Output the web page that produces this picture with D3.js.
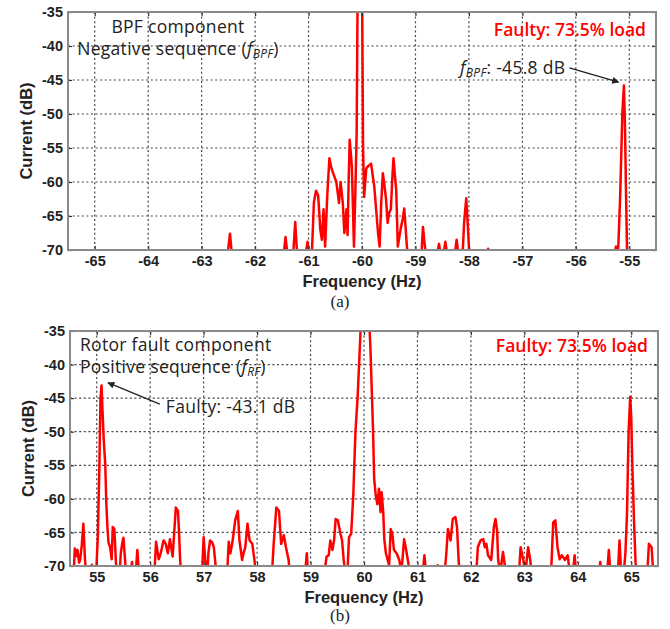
<!DOCTYPE html>
<html>
<head>
<meta charset="utf-8">
<script src="https://cdn.jsdelivr.net/npm/d3@7"></script>
<style>
  body { margin: 0; background: #fff; }
  svg { display: block; }
  .tick text { font-family: "Liberation Sans", Arial, sans-serif; font-weight: bold; font-size: 14.5px; fill: #222; }
  .title { font-family: "Liberation Sans", Arial, sans-serif; font-weight: bold; font-size: 16.5px; fill: #222; }
  .note { font-family: "Open Sans", sans-serif; font-size: 17.5px; font-weight: 500; letter-spacing: 0.3px; fill: #222; }
  .load { font-family: "Open Sans", sans-serif; font-size: 17.5px; font-weight: 600; fill: #ff0000; }
  .caption { font-family: "Liberation Serif", "Times New Roman", serif; font-size: 17px; fill: #222; }
  .grid { stroke: #444; stroke-width: 1.2; stroke-dasharray: 2,2.6; }
</style>
</head>
<body>
<svg id="chart" width="670" height="629"></svg>
<script>
// ---- data ----
const yTicks = [-35, -40, -45, -50, -55, -60, -65, -70];
const xTicksA = [-65, -64, -63, -62, -61, -60, -59, -58, -57, -56, -55];
const xTicksB = [55, 56, 57, 58, 59, 60, 61, 62, 63, 64, 65];

// [frequency Hz, current dB] – negative sequence spectrum (a)
const spectrumA = [
  [-65.5,-71],[-62.52,-71],[-62.47,-67.6],[-62.43,-71],
  [-61.47,-71],[-61.43,-68.1],[-61.39,-71],
  [-61.29,-71],[-61.25,-65.9],[-61.21,-71],
  [-61.06,-71],[-61.02,-68.8],[-60.98,-71],
  [-60.94,-71],[-60.9,-63],[-60.86,-61.3],[-60.82,-62],[-60.78,-67],[-60.75,-68.5],[-60.72,-64],[-60.69,-69.5],
  [-60.65,-62],[-60.61,-56.5],[-60.57,-58],[-60.54,-58.7],[-60.48,-60],[-60.43,-63.1],[-60.40,-60],[-60.36,-63],
  [-60.33,-67.5],[-60.29,-64],[-60.27,-67.8],[-60.25,-60],[-60.23,-53.8],[-60.19,-57.7],[-60.15,-69.5],[-60.12,-60],
  [-60.10,-52.8],[-60.08,-30],[-60.04,-20],[-60.0,-30],[-59.98,-55],[-59.96,-62.2],[-59.92,-58],[-59.89,-57.7],
  [-59.83,-57.3],[-59.77,-60.7],[-59.70,-67.5],[-59.67,-69.5],[-59.64,-63],[-59.61,-58.7],[-59.58,-60.5],[-59.55,-62.6],
  [-59.52,-66],[-59.49,-64.5],[-59.46,-64],[-59.43,-59],[-59.41,-56.5],[-59.39,-58.5],[-59.36,-61.2],[-59.33,-69.5],
  [-59.30,-68],[-59.27,-66.6],[-59.24,-65.5],[-59.21,-63.9],[-59.19,-66],[-59.16,-69.5],[-59.14,-71],
  [-58.89,-71],[-58.86,-66.6],[-58.83,-69],[-58.8,-71],
  [-58.6,-71],[-58.56,-69.1],[-58.52,-71],
  [-58.48,-71],[-58.44,-68.8],[-58.40,-71],
  [-58.27,-71],[-58.23,-68.5],[-58.19,-71],
  [-58.12,-71],[-58.09,-66],[-58.05,-62.4],[-58.02,-66.5],[-57.99,-71],
  [-57.66,-71],[-57.64,-69.8],[-57.62,-71],
  [-55.28,-71],[-55.25,-69.5],[-55.21,-70.5],[-55.17,-62],[-55.13,-50],[-55.10,-45.8],[-55.08,-52],[-55.06,-62],[-55.04,-71],
  [-54.5,-71]
];

// [frequency Hz, current dB] – positive sequence spectrum (b)
const spectrumB = [
  [54.5,-71],[54.57,-71],[54.59,-67.4],[54.62,-68.5],[54.64,-67.6],[54.67,-69.5],[54.69,-69.1],[54.72,-66.9],[54.75,-63.7],[54.78,-69],[54.8,-71],
  [54.89,-71],[54.91,-69.8],[54.93,-71],
  [54.99,-71],[55.02,-65.7],[55.05,-55],[55.07,-45],[55.09,-43.1],[55.11,-47.2],[55.13,-51],[55.16,-55],[55.18,-60.8],
  [55.2,-64.2],[55.22,-66.5],[55.25,-67.2],[55.28,-69],[55.30,-64.2],[55.33,-64.5],[55.36,-69.6],[55.38,-71],
  [55.43,-71],[55.45,-68.1],[55.48,-66.5],[55.5,-65.8],[55.53,-69.1],[55.55,-71],
  [55.64,-71],[55.66,-69.4],[55.68,-71],[55.73,-71],[55.76,-67.6],[55.79,-71],
  [56.08,-71],[56.11,-66.4],[56.16,-69],[56.2,-68],[56.25,-66.2],[56.29,-66.7],[56.33,-68.1],[56.37,-66],[56.42,-68.6],
  [56.45,-65],[56.48,-61.3],[56.52,-61.8],[56.54,-65],[56.56,-69.1],[56.58,-71],
  [56.72,-71],[56.74,-70],[56.76,-71],
  [56.97,-71],[57.0,-65.7],[57.03,-69.1],[57.07,-71],[57.09,-68],[57.12,-66.2],[57.16,-66.5],[57.19,-67.2],[57.22,-69.6],[57.24,-71],
  [57.44,-71],[57.47,-66.4],[57.5,-68.1],[57.54,-66.4],[57.59,-63.2],[57.64,-61.8],[57.67,-66.2],[57.72,-69.1],[57.75,-68],
  [57.78,-67.2],[57.82,-63.7],[57.86,-66.2],[57.91,-66.7],[57.95,-69.1],[57.98,-71],
  [58.1,-71],[58.12,-70],[58.14,-71],
  [58.28,-71],[58.31,-66.7],[58.36,-61.3],[58.41,-61.8],[58.45,-66.7],[58.5,-65.4],[58.54,-67.2],[58.59,-69.1],[58.61,-71],
  [58.9,-71],[58.93,-68.1],[58.95,-71],
  [59.26,-71],[59.3,-68.6],[59.34,-68.4],[59.37,-66.2],[59.41,-67.6],[59.44,-66.2],[59.47,-63],[59.51,-63.2],[59.56,-65.2],
  [59.59,-66.2],[59.62,-69.1],[59.65,-71],
  [59.69,-71],[59.72,-65.7],[59.76,-65.2],[59.8,-59.4],[59.84,-50],[59.88,-45],[59.93,-36],[59.98,-25],[60.05,-25],
  [60.12,-37.5],[60.17,-50],[60.19,-57],[60.22,-59.5],[60.25,-60.8],[60.28,-58.5],[60.31,-62],[60.33,-59],[60.36,-62],
  [60.38,-66],[60.41,-68.1],[60.47,-69.9],[60.5,-64.5],[60.53,-65.2],[60.56,-67.6],[60.61,-68.1],[60.66,-69.1],[60.7,-71],
  [60.73,-68],[60.75,-66],[60.78,-67.2],[60.83,-69.6],[60.85,-71],
  [61.1,-71],[61.13,-68.4],[61.16,-71],
  [61.36,-71],[61.38,-69.9],[61.4,-71],
  [61.51,-71],[61.54,-68.1],[61.57,-64.5],[61.62,-66.2],[61.66,-63],[61.71,-62.7],[61.74,-64.2],[61.77,-69.1],[61.79,-71],
  [62.1,-71],[62.13,-67.2],[62.18,-66.2],[62.23,-66],[62.26,-67.2],[62.29,-66.7],[62.32,-68.4],[62.38,-69.1],[62.43,-64.2],
  [62.46,-63],[62.49,-64.7],[62.51,-69.1],[62.55,-71],[62.6,-67.9],[62.63,-69.6],[62.65,-71],
  [62.9,-71],[62.93,-67.2],[62.98,-69.1],[63.02,-71],[63.07,-67.2],[63.11,-69.1],[63.13,-71],
  [63.5,-71],[63.54,-63.5],[63.58,-63.2],[63.62,-67.2],[63.66,-69],[63.7,-68.4],[63.76,-69.1],[63.81,-68.4],[63.85,-71],
  [63.91,-71],[63.94,-68.4],[63.97,-71],
  [64.4,-71],[64.42,-69.4],[64.44,-71],[64.55,-71],[64.58,-67.6],[64.61,-71],
  [64.75,-71],[64.78,-66.2],[64.81,-71],[64.86,-71],[64.89,-68.1],[64.92,-62.3],[64.95,-50],[64.98,-44.8],[65.0,-48],
  [65.02,-55],[65.05,-63],[65.08,-69.5],[65.1,-71],
  [65.3,-71],[65.33,-66.7],[65.38,-67.2],[65.4,-69.6],[65.42,-71],[65.5,-71]
];

// arrow annotations: [tail f, tail dB, head f, head dB]
const arrowA = [-56.12, -43.2, -55.2, -45.3];
const arrowB = [56.18, -45.9, 55.21, -42.7];

const svg = d3.select("#chart");

function drawPanel(p) {
  const g = svg.append("g").attr("transform", `translate(${p.left},${p.top})`);
  const x = d3.scaleLinear().domain(p.xDomain).range([0, p.width]);
  const y = d3.scaleLinear().domain([-70, -35]).range([p.height, 0]);

  // dotted grid
  g.append("g").selectAll("line").data(p.xTicks).join("line")
    .attr("class", "grid")
    .attr("x1", d => x(d)).attr("x2", d => x(d))
    .attr("y1", 0).attr("y2", p.height);
  g.append("g").selectAll("line").data(yTicks.slice(1, -1)).join("line")
    .attr("class", "grid")
    .attr("x1", 0).attr("x2", p.width)
    .attr("y1", d => y(d)).attr("y2", d => y(d));

  // spectrum
  const clipId = "clip-" + p.name;
  g.append("clipPath").attr("id", clipId)
    .append("rect").attr("width", p.width).attr("height", p.height);
  g.append("path")
    .datum(p.data)
    .attr("clip-path", `url(#${clipId})`)
    .attr("fill", "none")
    .attr("stroke", "#ff0000")
    .attr("stroke-width", 2.5)
    .attr("stroke-linejoin", "round")
    .attr("d", d3.line().x(d => x(d[0])).y(d => y(d[1])));

  // axes with inner ticks, plain hyphen for negatives
  const fmt = d => String(d);
  g.append("g").attr("transform", `translate(0,${p.height})`)
    .call(d3.axisBottom(x).tickValues(p.xTicks).tickFormat(fmt).tickSize(-4).tickPadding(6));
  g.append("g")
    .call(d3.axisLeft(y).tickValues(yTicks).tickFormat(fmt).tickSize(-4).tickPadding(5));
  g.append("g").call(d3.axisTop(x).tickValues(p.xTicks).tickSize(-4).tickFormat(""));
  g.append("g").attr("transform", `translate(${p.width},0)`)
    .call(d3.axisRight(y).tickValues(yTicks).tickSize(-4).tickFormat(""));
  g.selectAll(".domain").remove();
  g.selectAll(".tick line").attr("stroke", "#333").attr("stroke-width", 1.2);

  // frame
  g.append("rect").attr("width", p.width).attr("height", p.height)
    .attr("fill", "none").attr("stroke", "#8a8a8a").attr("stroke-width", 2);

  // titles
  g.append("text").attr("class", "title")
    .attr("text-anchor", "middle")
    .attr("x", p.width / 2).attr("y", p.height + 37)
    .text("Frequency (Hz)");
  g.append("text").attr("class", "title")
    .attr("text-anchor", "middle")
    .attr("transform", `translate(${-36},${p.height / 2}) rotate(-90)`)
    .text("Current (dB)");

  // load label
  g.append("text").attr("class", "load")
    .attr("text-anchor", "end")
    .attr("x", p.width - 10).attr("y", p.loadY)
    .text("Faulty: 73.5% load");

  // arrow
  const a = p.arrow;
  g.append("line")
    .attr("x1", x(a[0])).attr("y1", y(a[1]))
    .attr("x2", x(a[2])).attr("y2", y(a[3]))
    .attr("stroke", "#222").attr("stroke-width", 1.3)
    .attr("marker-end", "url(#arrowhead)");

  p.notes(g, x, y);

  svg.append("text").attr("class", "caption")
    .attr("text-anchor", "middle")
    .attr("x", 340).attr("y", p.top + p.height + p.captionGap)
    .text(p.caption);
}

svg.append("defs").append("marker")
  .attr("id", "arrowhead")
  .attr("viewBox", "0 0 10 10")
  .attr("refX", 9).attr("refY", 5)
  .attr("markerWidth", 9).attr("markerHeight", 7)
  .attr("markerUnits", "userSpaceOnUse")
  .attr("orient", "auto")
  .append("path").attr("d", "M0,0L10,5L0,10Z").attr("fill", "#222");

function sub(t, main, subscript) {
  t.append("tspan").attr("font-style", "italic").text(main);
  t.append("tspan").attr("font-style", "italic").attr("font-size", "12px").attr("dy", 3).text(subscript);
  return t;
}

drawPanel({
  name: "a", left: 68, top: 12, width: 588, height: 238,
  xDomain: [-65.5, -54.5], xTicks: xTicksA, data: spectrumA, arrow: arrowA,
  caption: "(a)", captionGap: 57, loadY: 24,
  notes(g, x, y) {
    g.append("text").attr("class", "note").attr("text-anchor", "middle")
      .attr("x", 110).attr("y", 21).text("BPF component");
    const t = g.append("text").attr("class", "note").attr("text-anchor", "middle")
      .attr("x", 110).attr("y", 43);
    t.append("tspan").text("Negative sequence (");
    sub(t, "f", "BPF");
    t.append("tspan").attr("dy", -3).text(")");
    const n = g.append("text").attr("class", "note").attr("text-anchor", "end")
      .attr("x", x(arrowA[0]) - 4).attr("y", y(arrowA[1]) + 6);
    sub(n, "f", "BPF");
    n.append("tspan").attr("dy", -3).text(": -45.8 dB");
  }
});

drawPanel({
  name: "b", left: 70, top: 331, width: 588, height: 235,
  xDomain: [54.5, 65.5], xTicks: xTicksB, data: spectrumB, arrow: arrowB,
  caption: "(b)", captionGap: 55, loadY: 21,
  notes(g, x, y) {
    g.append("text").attr("class", "note")
      .attr("x", 10).attr("y", 20).text("Rotor fault component");
    const t = g.append("text").attr("class", "note")
      .attr("x", 10).attr("y", 42);
    t.append("tspan").text("Positive sequence (");
    sub(t, "f", "RF");
    t.append("tspan").attr("dy", -3).text(")");
    g.append("text").attr("class", "note")
      .attr("x", x(arrowB[0]) + 6).attr("y", y(arrowB[1]) + 9)
      .text("Faulty: -43.1 dB");
  }
});
</script>
</body>
</html>
